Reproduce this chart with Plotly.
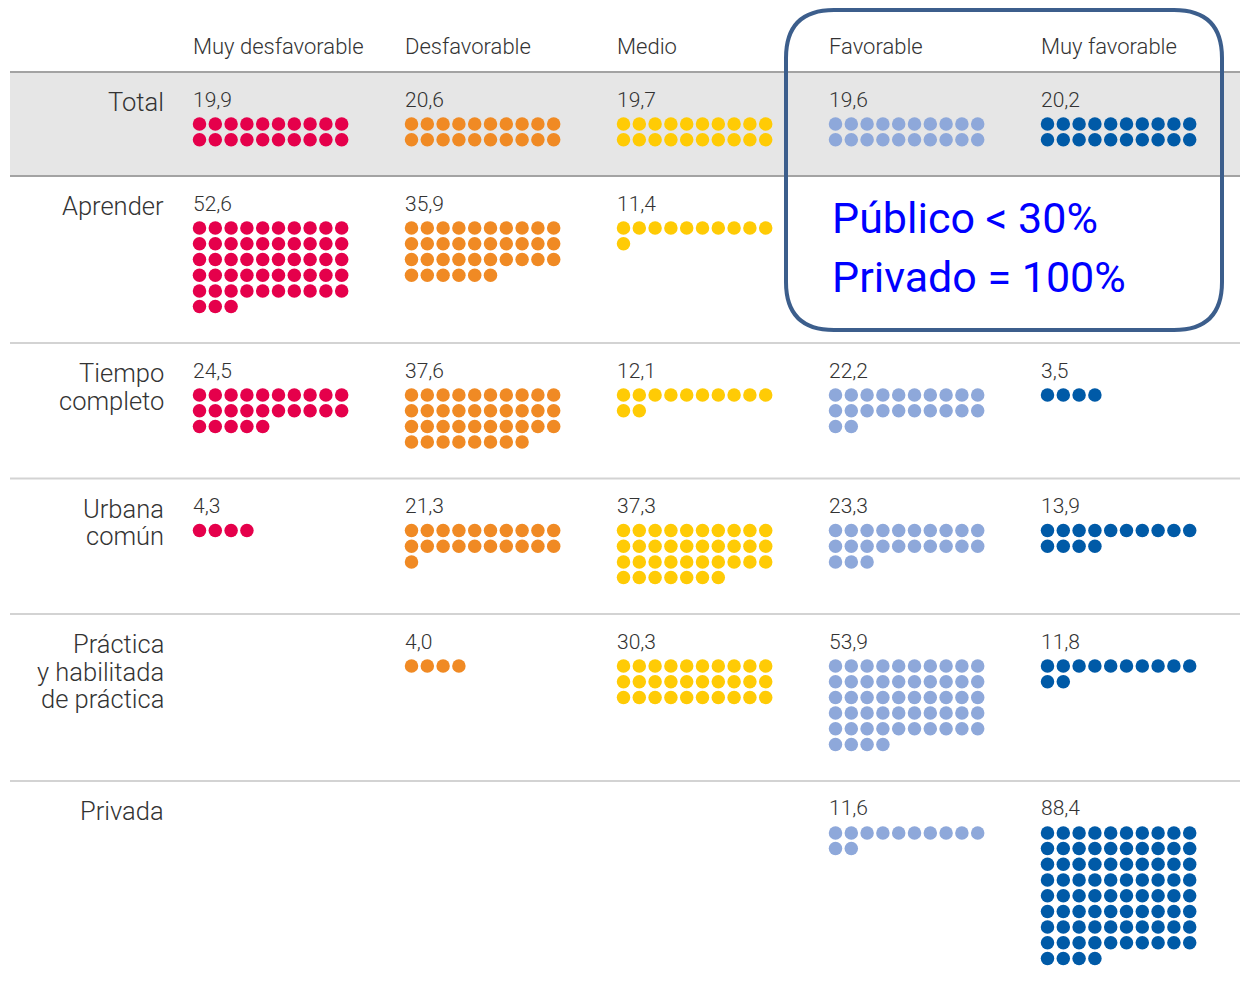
import plotly.graph_objects as go

# ---------------- data ----------------
categories = ["Muy desfavorable", "Desfavorable", "Medio", "Favorable", "Muy favorable"]
colors = ["#e5004b", "#f08a24", "#ffcb05", "#8ea8da", "#005aa7"]
row_labels = ["Total", "Aprender", "Tiempo<br>completo", "Urbana<br>común",
              "Práctica<br>y habilitada<br>de práctica", "Privada"]

muy_desf = [19.9, 52.6, 24.5, 4.3, None, None]
desf = [20.6, 35.9, 37.6, 21.3, 4.0, None]
medio = [19.7, 11.4, 12.1, 37.3, 30.3, None]
fav = [19.6, None, 22.2, 23.3, 53.9, 11.6]
muy_fav = [20.2, None, 3.5, 13.9, 11.8, 88.4]

# number of dots drawn in each cell (as shown in the chart)
muy_desf_dots = [20, 53, 25, 4, 0, 0]
desf_dots = [20, 36, 38, 21, 4, 0]
medio_dots = [20, 11, 12, 37, 30, 0]
fav_dots = [20, 0, 22, 23, 54, 12]
muy_fav_dots = [20, 0, 4, 14, 12, 84]

note_lines = ["Público < 30%", "Privado = 100%"]

values = [muy_desf, desf, medio, fav, muy_fav]
dots = [muy_desf_dots, desf_dots, medio_dots, fav_dots, muy_fav_dots]

# ---------------- layout geometry ----------------
W, H = 1248, 985
OFF = 8  # page body margin
PER_ROW = 10
DX, DY = 15.8, 15.7
COL_X0 = 193
COL_W = 212
HEAD_Y = 46
TABLE_TOP = 72
TXT = "#333333"
FONT = "Roboto"

# row tops from number of dot rows
row_tops = [TABLE_TOP]
for r in range(len(row_labels)):
    nrows = max((dots[c][r] + PER_ROW - 1) // PER_ROW for c in range(5))
    row_tops.append(row_tops[-1] + 72.7 + DY * nrows)

fig = go.Figure()
annotations = []
shapes = []

# total band background
shapes.append(dict(type="rect", x0=10, x1=W, y0=row_tops[0], y1=row_tops[1],
                   fillcolor="#e6e6e6", line_width=0, layer="below"))
# separators
for i, yt in enumerate(row_tops[:-1]):
    col = "#a3a3a3" if i < 2 else "#d3d3d3"
    shapes.append(dict(type="line", x0=10, x1=W, y0=yt, y1=yt,
                       line=dict(color=col, width=2), layer="below"))

# headers
for j, cat in enumerate(categories):
    annotations.append(dict(x=COL_X0 - 2 + j * COL_W, y=HEAD_Y, text=cat, showarrow=False,
                            xanchor="left", yanchor="middle",
                            font=dict(family=FONT, size=22, color=TXT, weight=300)))

# row labels
for r, lab in enumerate(row_labels):
    for k, line in enumerate(lab.split("<br>")):
        annotations.append(dict(x=166, y=row_tops[r] + 30 + 27.5 * k, text=line, showarrow=False,
                                xanchor="right", yanchor="middle",
                                font=dict(family=FONT, size=25.5, color=TXT, weight=300)))

# dots and value labels
for j in range(5):
    xs, ys = [], []
    for r in range(len(row_labels)):
        v = values[j][r]
        x0 = COL_X0 + j * COL_W
        if v is not None:
            annotations.append(dict(x=x0 - 2, y=row_tops[r] + 27.5, text=f"{v:.1f}".replace(".", ","),
                                    showarrow=False, xanchor="left", yanchor="middle",
                                    font=dict(family=FONT, size=21, color=TXT, weight=300)))
        for n in range(dots[j][r]):
            xs.append(x0 + 6.5 + DX * (n % PER_ROW))
            ys.append(row_tops[r] + 52 + DY * (n // PER_ROW))
    fig.add_trace(go.Scatter(x=xs, y=ys, mode="markers", name=categories[j],
                             marker=dict(size=13.5, color=colors[j], line_width=0),
                             hoverinfo="skip", showlegend=False))

# highlight box (rounded)
bx0, bx1, by0, by1, rad = 786, 1222, 10, 330, 48
path = (f"M {bx0+rad},{by0} L {bx1-rad},{by0} Q {bx1},{by0} {bx1},{by0+rad} "
        f"L {bx1},{by1-rad} Q {bx1},{by1} {bx1-rad},{by1} "
        f"L {bx0+rad},{by1} Q {bx0},{by1} {bx0},{by1-rad} "
        f"L {bx0},{by0+rad} Q {bx0},{by0} {bx0+rad},{by0} Z")
shapes.append(dict(type="path", path=path, line=dict(color="#3c5e8c", width=4),
                   fillcolor="rgba(0,0,0,0)", layer="above"))
for k, t in enumerate(note_lines):
    annotations.append(dict(x=830, y=218 + 59 * k, text=t, showarrow=False,
                            xanchor="left", yanchor="middle",
                            font=dict(family=FONT, size=43, color="#0000ff")))

fig.update_layout(
    width=W - OFF, height=H - OFF, margin=dict(l=0, r=0, t=0, b=0),
    paper_bgcolor="white", plot_bgcolor="white",
    xaxis=dict(range=[OFF, W], visible=False, fixedrange=True),
    yaxis=dict(range=[H, OFF], visible=False, fixedrange=True),
    shapes=shapes, annotations=annotations, showlegend=False,
)
fig.write_html("out.html")
